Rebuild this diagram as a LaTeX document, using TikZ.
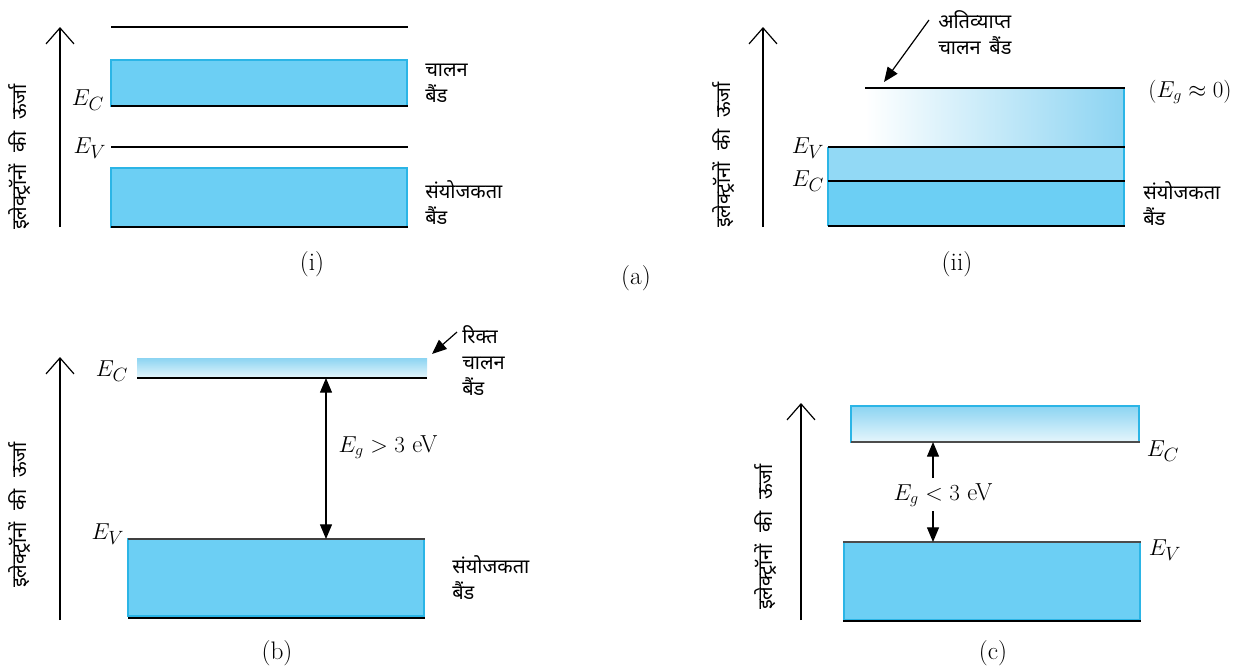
\documentclass[tikz,border=0pt]{standalone}
\usepackage{fontspec}
\newfontfamily\dev[Script=Devanagari]{Noto Sans}
\usetikzlibrary{arrows.meta}
\definecolor{bandblue}{HTML}{6CCFF4}
\definecolor{bandedge}{HTML}{2BB5E6}
\definecolor{bandlight}{HTML}{92D9F5}
\definecolor{gradblue}{HTML}{8CD4F2}
\definecolor{gradpale}{HTML}{E6F6FC}
\tikzset{
  axisarrow/.style={line width=0.9pt,-{Straight Barb[length=12pt,width=21pt,line width=0.9pt]}},
  lvl/.style={line width=0.9pt},
  band/.style={fill=bandblue,draw=bandedge,line width=0.8pt},
  gaparrow/.style={line width=0.9pt,-{Triangle[length=11pt,width=9pt]}},
  gapboth/.style={line width=0.9pt,{Triangle[length=11pt,width=9pt]}-{Triangle[length=11pt,width=9pt]}},
  ptr/.style={line width=0.9pt,-{Triangle[length=11pt,width=9pt]}},
  hin/.style={font=\dev\fontsize{15}{19.5}\selectfont,align=left,inner sep=0pt},
  ylab/.style={font=\dev\fontsize{15}{19}\selectfont,rotate=90,inner sep=0pt},
  elab/.style={font=\fontsize{19}{22}\selectfont,inner sep=0pt},
  eglab/.style={font=\fontsize{18.5}{22}\selectfont,inner sep=0pt},
  captxt/.style={font=\fontsize{19}{22}\selectfont,inner sep=0pt}
}
\newcommand{\ylabtext}{इलेक्ट्रॉनों\hspace{5pt} की\hspace{5pt} ऊर्जा}
\begin{document}
\begin{tikzpicture}[x=0.75pt,y=-0.75pt]
\useasboundingbox (0,0) rectangle (1245,665);

% ---------------- (i) ----------------
\coordinate (ia0) at (60,227);
\coordinate (ia1) at (60,27);
\draw[axisarrow] (ia0) -- (ia1);
\node[ylab] (iy) at (20,157) {\ylabtext};
\coordinate (it0) at (111,27); \coordinate (it1) at (408,27);
\draw[lvl] (it0) -- (it1);
\draw[band] (111,60) rectangle (407,106);
\coordinate (ic0) at (111,106); \coordinate (ic1) at (408,106);
\draw[lvl] (ic0) -- (ic1);
\coordinate (iv0) at (111,147); \coordinate (iv1) at (408,147);
\draw[lvl] (iv0) -- (iv1);
\draw[band] (111,168) rectangle (407,227);
\coordinate (ib0) at (111,227); \coordinate (ib1) at (408,227);
\draw[lvl] (ib0) -- (ib1);
\node[elab] (iec) at (88,100) {$E_C$};
\node[elab] (iev) at (90,148) {$E_V$};
\node[hin,anchor=west] (icb) at (425,83) {चालन\\बैंड};
\node[hin,anchor=west] (ivb) at (425,203) {संयोजकता\\बैंड};
\node[captxt] (icap) at (312,264) {(i)};

\node[captxt] (acap) at (636,278) {(a)};

% ---------------- (ii) ----------------
\coordinate (iia0) at (763,227);
\coordinate (iia1) at (763,27);
\draw[axisarrow] (iia0) -- (iia1);
\node[ylab] (iiy) at (724,155) {\ylabtext};
\shade[left color=white,right color=gradblue] (865,88) rectangle (1124,147);
\fill[bandlight] (828,147) rectangle (1124,181);
\fill[bandblue] (828,181) rectangle (1124,226);
\draw[bandedge,line width=0.8pt] (828,147) -- (828,226);
\draw[bandedge,line width=0.8pt] (1124,88) -- (1124,226);
\coordinate (iit0) at (865,88); \coordinate (iit1) at (1125,88);
\draw[lvl] (iit0) -- (iit1);
\coordinate (iiv0) at (828,147); \coordinate (iiv1) at (1125,147);
\draw[lvl] (iiv0) -- (iiv1);
\coordinate (iic0) at (828,181); \coordinate (iic1) at (1125,181);
\draw[lvl] (iic0) -- (iic1);
\coordinate (iib0) at (828,226); \coordinate (iib1) at (1125,226);
\draw[lvl] (iib0) -- (iib1);
\node[elab] (iiev) at (808,148) {$E_V$};
\node[elab] (iiec) at (808,181) {$E_C$};
\node[eglab] (iieg) at (1190,92) {$(E_g\approx 0)$};
\node[hin,anchor=west] (iiob) at (938,33) {अतिव्याप्त\\चालन\, बैंड};
\coordinate (iip0) at (929,20);
\coordinate (iip1) at (884,82);
\draw[ptr] (iip0) -- (iip1);
\node[hin,anchor=west] (iivb) at (1143,204) {संयोजकता\\बैंड};
\node[captxt] (iicap) at (957,264) {(ii)};

% ---------------- (b) ----------------
\coordinate (ba0) at (60,620);
\coordinate (ba1) at (60,357);
\draw[axisarrow] (ba0) -- (ba1);
\node[ylab] (by) at (20,515) {\ylabtext};
\shade[top color=gradblue,bottom color=gradpale] (137,358) rectangle (427,378);
\coordinate (bc0) at (137,378); \coordinate (bc1) at (427,378);
\draw[lvl] (bc0) -- (bc1);
\draw[band] (128,539) rectangle (424,616);
\coordinate (bv0) at (128,539); \coordinate (bv1) at (425,539);
\draw[lvl,draw=black!75] (bv0) -- (bv1);
\coordinate (bb0) at (128,618); \coordinate (bb1) at (425,618);
\draw[lvl] (bb0) -- (bb1);
\coordinate (bg0) at (326,378); \coordinate (bg1) at (326,539);
\draw[gapboth] (bg0) -- (bg1);
\node[elab] (bec) at (112,371) {$E_C$};
\node[elab] (bev) at (108,534) {$E_V$};
\node[eglab] (beg) at (388,447) {$E_g > 3$ eV};
\node[hin,anchor=west] (bcb) at (462,361) {रिक्त\\चालन\\बैंड};
\coordinate (bp0) at (457,332);
\coordinate (bp1) at (432,354);
\draw[ptr] (bp0) -- (bp1);
\node[hin,anchor=west] (bvb) at (452,578) {संयोजकता\\बैंड};
\node[captxt] (bcap) at (277,653) {(b)};

% ---------------- (c) ----------------
\coordinate (ca0) at (801,620);
\coordinate (ca1) at (801,403);
\draw[axisarrow] (ca0) -- (ca1);
\node[ylab] (cy) at (766,537) {\ylabtext};
\shade[top color=gradblue,bottom color=gradpale] (851,406) rectangle (1139,442);
\draw[bandedge,line width=0.8pt] (851,406) rectangle (1139,442);
\coordinate (cc0) at (851,442); \coordinate (cc1) at (1140,442);
\draw[lvl,draw=black!70] (cc0) -- (cc1);
\draw[band] (844,542) rectangle (1140,620);
\coordinate (cv0) at (843,542); \coordinate (cv1) at (1141,542);
\draw[lvl,draw=black!70] (cv0) -- (cv1);
\coordinate (cb0) at (843,621); \coordinate (cb1) at (1141,621);
\draw[lvl] (cb0) -- (cb1);
\node[eglab] (ceg) at (943,495) {$E_g < 3$ eV};
\coordinate (cu0) at (933,478);
\coordinate (cu1) at (933,442);
\draw[gaparrow] (cu0) -- (cu1);
\coordinate (cd0) at (933,511);
\coordinate (cd1) at (933,542);
\draw[gaparrow] (cd0) -- (cd1);
\node[elab] (cec) at (1163,451) {$E_C$};
\node[elab] (cev) at (1165,550) {$E_V$};
\node[captxt] (ccap) at (993,653) {(c)};
\end{tikzpicture}
\end{document}
